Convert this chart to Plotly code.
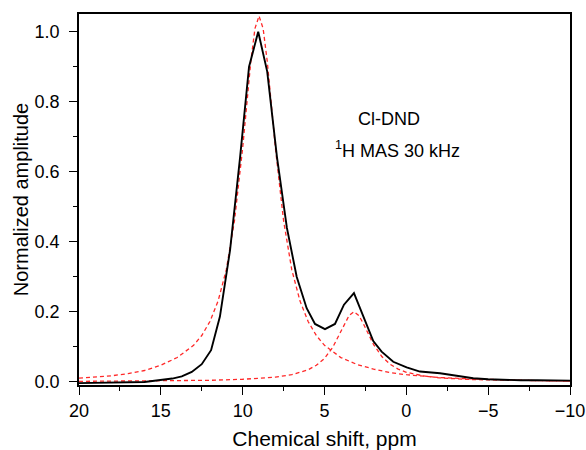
import plotly.graph_objects as go

# Experimental spectrum (black)
shift_exp = [20, 18, 16, 15.15, 14.3, 13.72, 13.11, 12.5, 11.93, 11.39, 10.77, 10.16, 9.61, 9.05,
             8.5, 7.9, 7.3, 6.7, 6.09, 5.58, 4.97, 4.36, 3.81, 3.2, 2.63, 2.02, 1.51, 0.8, -0.02,
             -0.83, -2.06, -3.0, -4.09, -5.0, -6.0, -7.0, -8.0, -9.0, -10.0]
amp_exp = [-0.004, -0.003, -0.001, 0.004, 0.009, 0.015, 0.028, 0.05, 0.09, 0.186, 0.376, 0.64, 0.90, 1.0,
           0.886, 0.64, 0.44, 0.30, 0.21, 0.165, 0.15, 0.165, 0.22, 0.253, 0.186, 0.116, 0.086, 0.057, 0.041,
           0.029, 0.024, 0.017, 0.01, 0.007, 0.005, 0.004, 0.004, 0.003, 0.003]

# Fitted component 1 (red dashed)
shift_fit1 = [20, 19, 18, 17, 16, 15, 14, 13, 12.5, 12, 11.5, 11, 10.5, 10, 9.75, 9.5, 9.25, 9.0,
              8.75, 8.5, 8.25, 8, 7.5, 7, 6.5, 6, 5.5, 5, 4, 3, 2, 1, 0, -2, -4, -6, -8, -10]
amp_fit1 = [0.010, 0.013, 0.017, 0.023, 0.032, 0.047, 0.069, 0.104, 0.132, 0.172, 0.231, 0.320, 0.460, 0.668,
            0.793, 0.916, 1.009, 1.045, 1.009, 0.916, 0.793, 0.668, 0.460, 0.320, 0.231, 0.172, 0.132, 0.104,
            0.069, 0.049, 0.036, 0.026, 0.020, 0.012, 0.008, 0.005, 0.003, 0.002]

# Fitted component 2 (red dashed)
shift_fit2 = [20, 16, 14, 12, 10, 9, 8, 7, 6.5, 6, 5.5, 5, 4.5, 4, 3.75, 3.5, 3.2, 2.9, 2.65, 2.4,
              2, 1.5, 1, 0.5, 0, -1, -2, -4, -6, -8, -10]
amp_fit2 = [0.001, 0.002, 0.003, 0.004, 0.007, 0.009, 0.013, 0.020, 0.026, 0.034, 0.047, 0.0665, 0.098, 0.143,
            0.168, 0.189, 0.200, 0.189, 0.168, 0.143, 0.106, 0.072, 0.050, 0.036, 0.027, 0.017, 0.011, 0.006,
            0.004, 0.0025, 0.0018]

x_ticks = [20, 15, 10, 5, 0, -5, -10]
y_ticks = [0.0, 0.2, 0.4, 0.6, 0.8, 1.0]
y_tick_labels = ["0.0", "0.2", "0.4", "0.6", "0.8", "1.0"]

FONT = "Liberation Sans, Arial, sans-serif"
RED = "rgb(255,40,40)"

fig = go.Figure()
fig.add_trace(go.Scatter(x=shift_fit1, y=amp_fit1, mode="lines",
                         line=dict(color=RED, width=1.3, dash="4px,3px"), showlegend=False))
fig.add_trace(go.Scatter(x=shift_fit2, y=amp_fit2, mode="lines",
                         line=dict(color=RED, width=1.3, dash="4px,3px"), showlegend=False))
fig.add_trace(go.Scatter(x=shift_exp, y=amp_exp, mode="lines",
                         line=dict(color="black", width=1.9), showlegend=False))

fig.add_annotation(x=0.631, y=0.718, xref="paper", yref="paper", text="Cl-DND", showarrow=False,
                   font=dict(family=FONT, size=18, color="black"), xanchor="center", yanchor="middle")
fig.add_annotation(x=0.649, y=0.636, xref="paper", yref="paper", text="<sup>1</sup>H MAS 30 kHz",
                   showarrow=False,
                   font=dict(family=FONT, size=18, color="black"), xanchor="center", yanchor="middle")

fig.update_layout(
    width=586, height=450,
    margin=dict(l=79, r=16, t=14, b=65, autoexpand=False),
    plot_bgcolor="white", paper_bgcolor="white",
    font=dict(family=FONT, size=18, color="black"),
)
fig.update_xaxes(
    range=[20, -10], tickvals=x_ticks, ticks="outside", ticklen=8, tickwidth=1.3, tickcolor="black",
    minor=dict(dtick=2.5, ticks="outside", ticklen=4, tickwidth=1.3, tickcolor="black"),
    showline=True, linecolor="black", linewidth=1.5, mirror=True, showgrid=False, zeroline=False,
    tickfont=dict(size=18), ticklabelstandoff=1, automargin=False,
    title=dict(text="Chemical shift, ppm", font=dict(size=21), standoff=11),
)
fig.update_yaxes(
    range=[-0.0094, 1.0506], tickvals=y_ticks, ticktext=y_tick_labels, ticks="outside", ticklen=8,
    tickwidth=1.3, tickcolor="black",
    minor=dict(dtick=0.1, ticks="outside", ticklen=4, tickwidth=1.3, tickcolor="black"),
    showline=True, linecolor="black", linewidth=1.5, mirror=True, showgrid=False, zeroline=False,
    tickfont=dict(size=18), ticklabelstandoff=6, automargin=False,
    title=dict(text="Normalized amplitude", font=dict(size=20), standoff=1),
)

fig.write_html("out.html", config={"displayModeBar": False},
               post_script="document.body.style.margin='0';")
